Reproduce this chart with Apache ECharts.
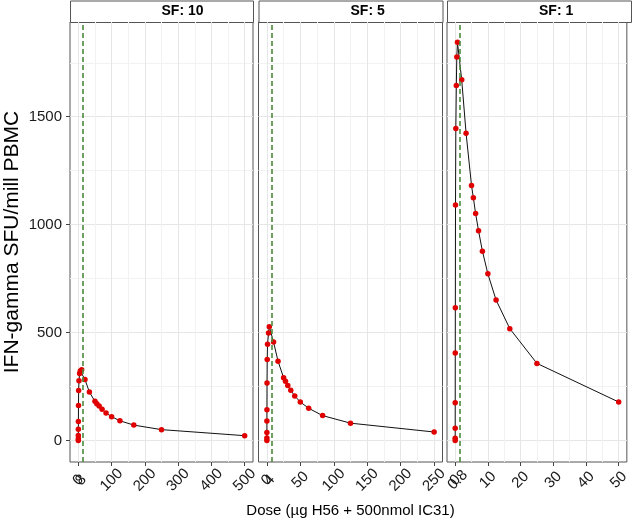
<!DOCTYPE html>
<html>
<head>
<meta charset="utf-8">
<title>IFN-gamma dose response</title>
<script src="https://cdn.jsdelivr.net/npm/echarts@6/dist/echarts.min.js"></script>
<style>
  html, body { margin: 0; padding: 0; background: #fff; }
  #chart { width: 632px; height: 526px; }
</style>
</head>
<body>
<div id="chart"></div>
<script>
// facet labels
const panelNames = ['SF: 10', 'SF: 5', 'SF: 1'];

// SF 10
const dose10 = [0.015, 0.03, 0.06, 0.12, 0.25, 0.5, 1, 2, 4, 6, 10, 20, 33.3, 50, 55.6, 62.5, 71.4, 83.3, 100, 125, 166.7, 250, 500];
const ifn10 = [0, 8, 23, 52, 88, 162, 231, 276, 310, 322, 328, 282, 224, 181, 170, 159, 145, 127, 110, 91, 71, 50, 22];
// SF 5
const dose5 = [0.0075, 0.015, 0.03, 0.06, 0.12, 0.25, 0.5, 1, 2.5, 3.6, 10, 16.7, 25, 27.8, 31.25, 35.7, 41.7, 50, 62.5, 83.3, 125, 250];
const ifn5 = [0, 11, 37, 90, 142, 266, 375, 446, 498, 527, 456, 367, 291, 274, 254, 232, 206, 178, 149, 115, 80, 39];
// SF 1
const dose1 = [0.0015, 0.003, 0.006, 0.012, 0.025, 0.05, 0.1, 0.2, 0.35, 0.5, 0.7, 2, 3.33, 5, 5.56, 6.25, 7.14, 8.33, 10, 12.5, 16.7, 25, 50];
const ifn1 = [0, 10, 56, 175, 405, 615, 1091, 1445, 1645, 1777, 1845, 1671, 1424, 1181, 1125, 1051, 972, 877, 772, 651, 518, 357, 178];

// dashed reference dose per panel, and the extra label drawn near 0
const refDose = [14, 7, 1.4];
const refLabel = [8, 4, 0.8];

// x tick labels / ticks / grid lines
const xMajor10 = [0, 100, 200, 300, 400, 500];
const xMajor5 = [0, 50, 100, 150, 200, 250];
const xMajor1 = [0, 10, 20, 30, 40, 50];
const xGrid10 = [0, 50, 100, 150, 200, 250, 300, 350, 400, 450, 500];
const xGrid5 = [0, 25, 50, 75, 100, 125, 150, 175, 200, 225, 250];
const xGrid1 = [0, 5, 10, 15, 20, 25, 30, 35, 40, 45, 50];
const yMajor = [0, 500, 1000, 1500];
const yGrid = [0, 250, 500, 750, 1000, 1250, 1500, 1750];

const doses = [dose10, dose5, dose1];
const ifns = [ifn10, ifn5, ifn1];
const xMajors = [xMajor10, xMajor5, xMajor1];
const xGrids = [xGrid10, xGrid5, xGrid1];
const xRanges = [[-25, 525], [-12.5, 262.5], [-2.5, 52.5]];
const yRange = [-100, 1939];

const FONT = 'Liberation Sans, Arial, Helvetica, sans-serif';
const lefts = [70, 258.5, 447];
const widths = [183, 184, 184];
const gridTop = 22;
const gridBottom = 64;

const chart = echarts.init(document.getElementById('chart'), null, {renderer: 'canvas'});

const grids = [], xAxes = [], yAxes = [], series = [], graphics = [];
const plain = v => String(v);
const xLabelStyle = {
  rotate: 45, align: 'center', verticalAlign: 'middle',
  margin: 18, fontFamily: FONT, fontSize: 15, color: '#1a1a1a',
  hideOverlap: false, showMinLabel: true, showMaxLabel: true, formatter: plain
};

for (let i = 0; i < 3; i++) {
  grids.push({
    left: lefts[i], width: widths[i], top: gridTop, bottom: gridBottom,
    show: true, backgroundColor: '#fff', borderColor: '#555', borderWidth: 1,
    containLabel: false
  });

  // main x axis: grid lines + tick labels
  xAxes.push({
    type: 'value', gridIndex: i, min: xRanges[i][0], max: xRanges[i][1],
    position: 'bottom',
    name: i === 1 ? 'Dose (µg H56 + 500nmol IC31)' : '',
    nameLocation: 'middle', nameGap: 41,
    nameTextStyle: {fontFamily: FONT, fontSize: 15, color: '#000'},
    axisLine: {show: false, onZero: false},
    axisTick: {show: false, customValues: xGrids[i]},
    axisLabel: Object.assign({customValues: xMajors[i]}, xLabelStyle),
    splitLine: {show: true, lineStyle: {color: ['#e6e6e6', '#f2f2f2'], width: 1}}
  });

  yAxes.push({
    type: 'value', gridIndex: i, min: yRange[0], max: yRange[1],
    name: i === 0 ? 'IFN-gamma SFU/mill PBMC' : '',
    nameLocation: 'middle', nameGap: 47,
    nameTextStyle: {fontFamily: FONT, fontSize: 21, color: '#000'},
    axisLine: {show: false, onZero: false},
    axisTick: {show: false, customValues: yGrid},
    axisLabel: {
      show: i === 0, customValues: yMajor, margin: 8,
      fontFamily: FONT, fontSize: 15, color: '#1a1a1a', formatter: plain
    },
    splitLine: {show: true, lineStyle: {color: ['#e6e6e6', '#f2f2f2'], width: 1}}
  });

  series.push({
    type: 'line', xAxisIndex: i, yAxisIndex: i,
    data: doses[i].map((d, k) => [d, ifns[i][k]]),
    symbol: 'circle', symbolSize: 5.5, showSymbol: true,
    lineStyle: {color: '#111', width: 1},
    itemStyle: {color: '#e00000'},
    z: 3,
    markLine: {
      silent: true, symbol: 'none', animation: false,
      label: {show: false},
      lineStyle: {type: [5, 3], color: '#4b8b3b', width: 1.6},
      data: [{xAxis: refDose[i]}]
    }
  });

  // facet strip
  graphics.push({
    type: 'rect', left: lefts[i], top: 0.5,
    shape: {width: widths[i], height: gridTop - 0.5},
    style: {fill: '#fff', stroke: '#555', lineWidth: 1}
  });
  graphics.push({
    type: 'text', left: lefts[i] + widths[i] / 2, top: 4,
    style: {
      text: panelNames[i], fill: '#000', font: 'bold 14px ' + FONT,
      textAlign: 'center'
    }
  });
}

// tick marks at major breaks + the extra reference label
for (let i = 0; i < 3; i++) {
  xAxes.push({
    type: 'value', gridIndex: i, min: xRanges[i][0], max: xRanges[i][1],
    position: 'bottom',
    axisLine: {show: false, onZero: false},
    axisTick: {show: true, customValues: xMajors[i], length: 4, lineStyle: {color: '#444'}},
    axisLabel: Object.assign({customValues: [refLabel[i]]}, xLabelStyle),
    splitLine: {show: false}
  });
}
yAxes.push({
  type: 'value', gridIndex: 0, min: yRange[0], max: yRange[1],
  position: 'left',
  axisLine: {show: false, onZero: false},
  axisTick: {show: true, customValues: yMajor, length: 4, lineStyle: {color: '#444'}},
  axisLabel: {show: false},
  splitLine: {show: false}
});

chart.setOption({
  animation: false,
  backgroundColor: '#fff',
  textStyle: {fontFamily: FONT},
  grid: grids,
  xAxis: xAxes,
  yAxis: yAxes,
  series: series,
  graphic: graphics
});
</script>
</body>
</html>
